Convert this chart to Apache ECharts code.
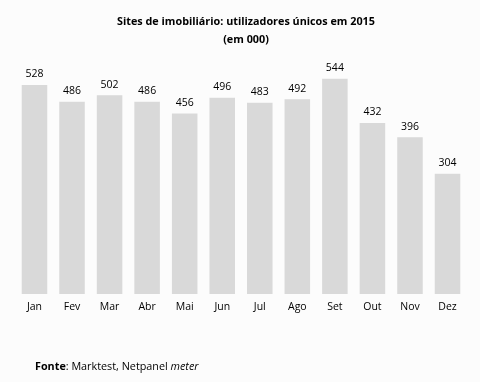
<!DOCTYPE html>
<html><head><meta charset="utf-8">
<script src="https://cdn.jsdelivr.net/npm/echarts@6/dist/echarts.min.js"></script>
<style>html,body{margin:0;padding:0;background:#fcfcfc}#c{width:480px;height:382px}</style>
</head><body><div id="c"></div>
<script>
const categories = ['Jan','Fev','Mar','Abr','Mai','Jun','Jul','Ago','Set','Out','Nov','Dez'];
const values = [528,486,502,486,456,496,483,492,544,432,396,304];
const font = '"Open Sans", "Noto Sans", sans-serif';
const chart = echarts.init(document.getElementById('c'));
chart.setOption({
  backgroundColor: '#fcfcfc',
  animation: false,
  title: {
    text: 'Sites de imobiliário: utilizadores únicos em 2015\n(em 000)',
    left: 241, top: 8, textAlign: 'center',
    textStyle: {fontFamily: font, fontSize: 10.8, fontWeight: 'bold', color: '#000', lineHeight: 18}
  },
  graphic: [{
    type: 'text', left: 35, top: 361,
    style: {
      text: '{b|Fonte}: Marktest, Netpanel {i|meter}',
      font: '10.8px ' + font, fill: '#000',
      rich: {b: {fontWeight: 'bold', fontFamily: font, fontSize: 10.8}, i: {fontStyle: 'italic', fontFamily: font, fontSize: 10.8}}
    }
  }],
  grid: {left: 15.7, right: 13.7, top: 56.5, bottom: 88},
  xAxis: {
    type: 'category', data: categories,
    axisLine: {show: false}, axisTick: {show: false},
    axisLabel: {fontFamily: font, fontSize: 10.5, color: '#000', margin: 8}
  },
  yAxis: {type: 'value', min: 0, max: 600, show: false, splitLine: {show: false}},
  series: [{
    type: 'bar', data: values, barWidth: '68%',
    itemStyle: {color: '#d9d9d9'},
    label: {show: true, position: 'top', distance: 5, fontFamily: font, fontSize: 10.5, color: '#000'}
  }]
});
</script></body></html>
